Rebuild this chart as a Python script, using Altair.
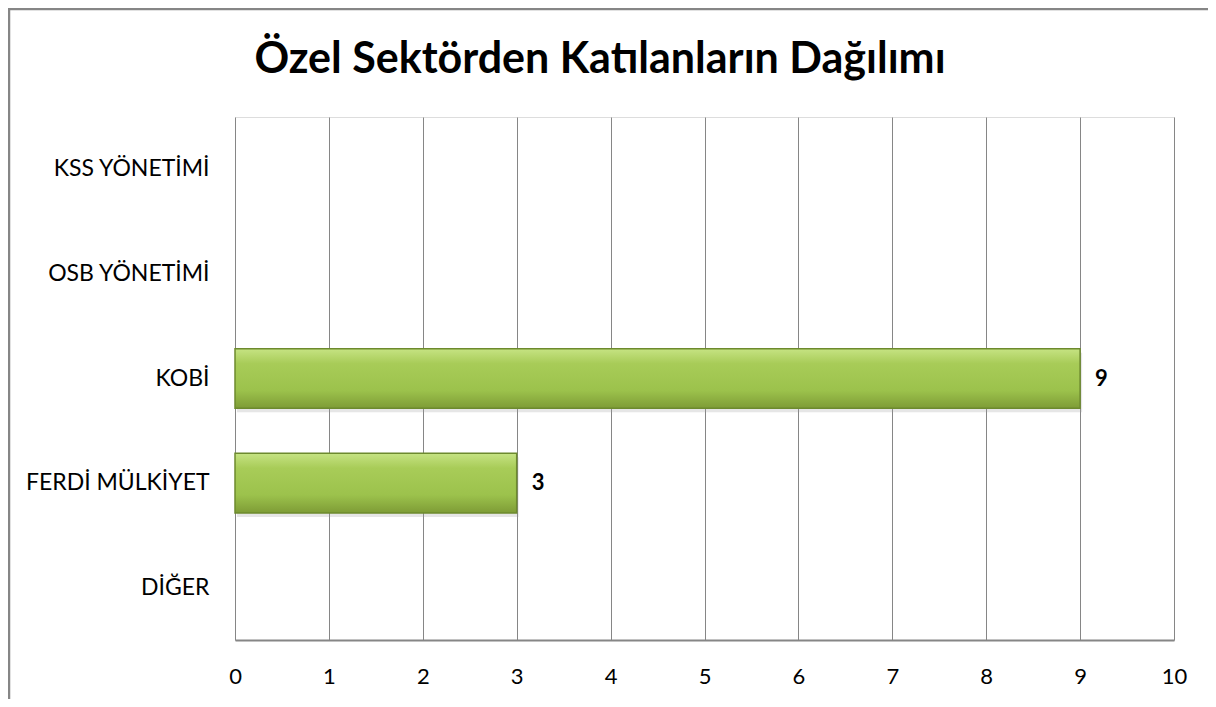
import altair as alt
import pandas as pd

title_text = "Özel Sektörden Katılanların Dağılımı"
categories = ["KSS YÖNETİMİ", "OSB YÖNETİMİ", "KOBİ", "FERDİ MÜLKİYET", "DİĞER"]
values = [0, 0, 9, 3, 0]
x_ticks = [0, 1, 2, 3, 4, 5, 6, 7, 8, 9, 10]

df = pd.DataFrame({"cat": categories, "val": values})
df["label"] = [str(v) if v else "" for v in values]
title_df = pd.DataFrame({"t": [title_text]})

FONT = "Lato"
W, H = 939, 523

y_enc = alt.Y("cat:N", sort=categories, title=None,
              scale=alt.Scale(domain=categories, paddingInner=0.43, paddingOuter=0.215),
              axis=alt.Axis(labelFont=FONT, labelFontSize=23, labelColor="#000000",
                            labelPadding=26, labelLimit=0, ticks=False, domain=False,
                            grid=False))
x_enc = alt.X("val:Q", title=None,
              scale=alt.Scale(domain=[0, 10], nice=False),
              axis=alt.Axis(values=x_ticks, format="d", labelFont=FONT, labelFontSize=22,
                            labelColor="#000000", labelPadding=26, labelFlush=False,
                            ticks=False, domain=True, domainColor="#868686",
                            domainWidth=2, grid=True, gridColor="#868686", gridWidth=1))

grad = alt.Gradient(gradient="linear", x1=0, x2=0, y1=0, y2=1,
                    stops=[alt.GradientStop(color="#c6e383", offset=0),
                           alt.GradientStop(color="#a8cc58", offset=0.25),
                           alt.GradientStop(color="#9cc24c", offset=0.7),
                           alt.GradientStop(color="#7e9c36", offset=1)])

frame = alt.Chart(title_df).mark_rect(fill=None, stroke="#868686", strokeWidth=2.5).encode(
    x=alt.value(-226), x2=alt.value(W + 80), y=alt.value(-108), y2=alt.value(H + 90)
)

title = alt.Chart(title_df).mark_text(font=FONT, fontSize=43, fontWeight="bold",
                                      color="#000000", align="center",
                                      baseline="alphabetic").encode(
    x=alt.value(365), y=alt.value(-44), text="t:N"
)

shadow = alt.Chart(df).transform_filter("datum.val > 0").mark_bar(
    fill="#9a9a9a", opacity=0.25).encode(
    x=x_enc, y=y_enc, xOffset=alt.value(2), yOffset=alt.value(4)
)

bars = alt.Chart(df).transform_filter("datum.val > 0").mark_bar(
    fill=grad, stroke="#6d8a2e", strokeWidth=1.5).encode(
    x=x_enc, y=y_enc
)

labels = alt.Chart(df).mark_text(font=FONT, fontSize=22, fontWeight="bold",
                                 color="#000000", align="left", dx=15).encode(
    x="val:Q", y=alt.Y("cat:N", sort=categories), text="label:N"
)

chart = alt.layer(frame, title, shadow, bars, labels).properties(
    width=W, height=H,
    autosize=alt.AutoSizeParams(type="none"),
    padding={"left": 227, "top": 109, "right": 34, "bottom": 59},
).configure_view(stroke=None).configure(background="#ffffff")

chart.save("out.html", embed_options={"renderer": "svg", "actions": False})
